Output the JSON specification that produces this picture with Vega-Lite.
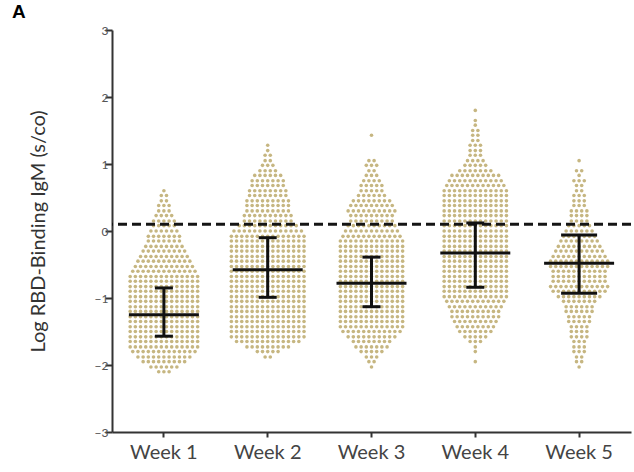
{
  "$schema": "https://vega.github.io/schema/vega-lite/v6.json",
  "width": 519,
  "height": 402,
  "autosize": {"type": "none"},
  "padding": {"left": 112, "top": 30, "right": 3, "bottom": 40},
  "background": "white",
  "title": {"text": "A", "anchor": "start", "frame": "group", "dx": -100, "offset": 2, "fontSize": 19, "fontWeight": "bold", "font": "Liberation Sans", "color": "#000"},
  "config": {"view": {"stroke": null}},
  "layer": [
    {
      "data": {"values": [
        {"w": "Week 1", "v": [0.6,0.53,0.53,0.45,0.45,0.38,0.38,0.38,0.3,0.3,0.3,0.23,0.23,0.23,0.23,0.15,0.15,0.15,0.15,0.15,0.08,0.08,0.08,0.08,0.08,0,0,0,0,0,0,
          -0.08,-0.08,-0.08,-0.08,-0.08,-0.08,-0.08,
          -0.15,-0.15,-0.15,-0.15,-0.15,-0.15,-0.15,
          -0.23,-0.23,-0.23,-0.23,-0.23,-0.23,-0.23,-0.23,
          -0.3,-0.3,-0.3,-0.3,-0.3,-0.3,-0.3,-0.3,-0.3,
          -0.38,-0.38,-0.38,-0.38,-0.38,-0.38,-0.38,-0.38,-0.38,-0.38,
          -0.45,-0.45,-0.45,-0.45,-0.45,-0.45,-0.45,-0.45,-0.45,-0.45,-0.45,
          -0.53,-0.53,-0.53,-0.53,-0.53,-0.53,-0.53,-0.53,-0.53,-0.53,-0.53,-0.53,
          -0.6,-0.6,-0.6,-0.6,-0.6,-0.6,-0.6,-0.6,-0.6,-0.6,-0.6,-0.6,-0.6,
          -0.68,-0.68,-0.68,-0.68,-0.68,-0.68,-0.68,-0.68,-0.68,-0.68,-0.68,-0.68,-0.68,-0.68,
          -0.75,-0.75,-0.75,-0.75,-0.75,-0.75,-0.75,-0.75,-0.75,-0.75,-0.75,-0.75,-0.75,-0.75,
          -0.83,-0.83,-0.83,-0.83,-0.83,-0.83,-0.83,-0.83,-0.83,-0.83,-0.83,-0.83,-0.83,-0.83,
          -0.9,-0.9,-0.9,-0.9,-0.9,-0.9,-0.9,-0.9,-0.9,-0.9,-0.9,-0.9,-0.9,-0.9,
          -0.98,-0.98,-0.98,-0.98,-0.98,-0.98,-0.98,-0.98,-0.98,-0.98,-0.98,-0.98,-0.98,-0.98,
          -1.05,-1.05,-1.05,-1.05,-1.05,-1.05,-1.05,-1.05,-1.05,-1.05,-1.05,-1.05,-1.05,-1.05,
          -1.13,-1.13,-1.13,-1.13,-1.13,-1.13,-1.13,-1.13,-1.13,-1.13,-1.13,-1.13,-1.13,-1.13,
          -1.2,-1.2,-1.2,-1.2,-1.2,-1.2,-1.2,-1.2,-1.2,-1.2,-1.2,-1.2,-1.2,-1.2,
          -1.28,-1.28,-1.28,-1.28,-1.28,-1.28,-1.28,-1.28,-1.28,-1.28,-1.28,-1.28,-1.28,-1.28,
          -1.35,-1.35,-1.35,-1.35,-1.35,-1.35,-1.35,-1.35,-1.35,-1.35,-1.35,-1.35,-1.35,-1.35,
          -1.43,-1.43,-1.43,-1.43,-1.43,-1.43,-1.43,-1.43,-1.43,-1.43,-1.43,-1.43,-1.43,-1.43,
          -1.5,-1.5,-1.5,-1.5,-1.5,-1.5,-1.5,-1.5,-1.5,-1.5,-1.5,-1.5,-1.5,-1.5,
          -1.58,-1.58,-1.58,-1.58,-1.58,-1.58,-1.58,-1.58,-1.58,-1.58,-1.58,-1.58,-1.58,-1.58,
          -1.65,-1.65,-1.65,-1.65,-1.65,-1.65,-1.65,-1.65,-1.65,-1.65,-1.65,-1.65,-1.65,-1.65,
          -1.73,-1.73,-1.73,-1.73,-1.73,-1.73,-1.73,-1.73,-1.73,-1.73,-1.73,-1.73,-1.73,-1.73,
          -1.8,-1.8,-1.8,-1.8,-1.8,-1.8,-1.8,-1.8,-1.8,-1.8,-1.8,-1.8,-1.8,
          -1.88,-1.88,-1.88,-1.88,-1.88,-1.88,-1.88,-1.88,-1.88,-1.88,-1.88,
          -1.95,-1.95,-1.95,-1.95,-1.95,-1.95,-1.95,-1.95,-1.95,
          -2.03,-2.03,-2.03,-2.03,-2.03,-2.03,
          -2.1,-2.1,-2.1]},
        {"w": "Week 2", "v": [1.28,1.2,1.13,1.13,1.05,1.05,0.98,0.98,0.98,0.9,0.9,0.9,0.9,
          0.83,0.83,0.83,0.83,0.83,0.83,
          0.75,0.75,0.75,0.75,0.75,0.75,0.75,
          0.68,0.68,0.68,0.68,0.68,0.68,0.68,
          0.6,0.6,0.6,0.6,0.6,0.6,0.6,0.6,
          0.53,0.53,0.53,0.53,0.53,0.53,0.53,0.53,
          0.45,0.45,0.45,0.45,0.45,0.45,0.45,0.45,0.45,
          0.38,0.38,0.38,0.38,0.38,0.38,0.38,0.38,0.38,
          0.3,0.3,0.3,0.3,0.3,0.3,0.3,0.3,0.3,
          0.23,0.23,0.23,0.23,0.23,0.23,0.23,0.23,0.23,0.23,
          0.15,0.15,0.15,0.15,0.15,0.15,0.15,0.15,0.15,0.15,
          0.08,0.08,0.08,0.08,0.08,0.08,0.08,0.08,0.08,0.08,0.08,0.08,
          0,0,0,0,0,0,0,0,0,0,0,0,0,0,
          -0.08,-0.08,-0.08,-0.08,-0.08,-0.08,-0.08,-0.08,-0.08,-0.08,-0.08,-0.08,-0.08,-0.08,-0.08,
          -0.15,-0.15,-0.15,-0.15,-0.15,-0.15,-0.15,-0.15,-0.15,-0.15,-0.15,-0.15,-0.15,-0.15,-0.15,
          -0.23,-0.23,-0.23,-0.23,-0.23,-0.23,-0.23,-0.23,-0.23,-0.23,-0.23,-0.23,-0.23,-0.23,-0.23,
          -0.3,-0.3,-0.3,-0.3,-0.3,-0.3,-0.3,-0.3,-0.3,-0.3,-0.3,-0.3,-0.3,-0.3,-0.3,
          -0.38,-0.38,-0.38,-0.38,-0.38,-0.38,-0.38,-0.38,-0.38,-0.38,-0.38,-0.38,-0.38,-0.38,-0.38,
          -0.45,-0.45,-0.45,-0.45,-0.45,-0.45,-0.45,-0.45,-0.45,-0.45,-0.45,-0.45,-0.45,-0.45,-0.45,
          -0.53,-0.53,-0.53,-0.53,-0.53,-0.53,-0.53,-0.53,-0.53,-0.53,-0.53,-0.53,-0.53,-0.53,-0.53,
          -0.6,-0.6,-0.6,-0.6,-0.6,-0.6,-0.6,-0.6,-0.6,-0.6,-0.6,-0.6,-0.6,-0.6,-0.6,
          -0.68,-0.68,-0.68,-0.68,-0.68,-0.68,-0.68,-0.68,-0.68,-0.68,-0.68,-0.68,-0.68,-0.68,-0.68,
          -0.75,-0.75,-0.75,-0.75,-0.75,-0.75,-0.75,-0.75,-0.75,-0.75,-0.75,-0.75,-0.75,-0.75,-0.75,
          -0.83,-0.83,-0.83,-0.83,-0.83,-0.83,-0.83,-0.83,-0.83,-0.83,-0.83,-0.83,-0.83,-0.83,-0.83,
          -0.9,-0.9,-0.9,-0.9,-0.9,-0.9,-0.9,-0.9,-0.9,-0.9,-0.9,-0.9,-0.9,-0.9,-0.9,
          -0.98,-0.98,-0.98,-0.98,-0.98,-0.98,-0.98,-0.98,-0.98,-0.98,-0.98,-0.98,-0.98,-0.98,-0.98,
          -1.05,-1.05,-1.05,-1.05,-1.05,-1.05,-1.05,-1.05,-1.05,-1.05,-1.05,-1.05,-1.05,-1.05,-1.05,
          -1.13,-1.13,-1.13,-1.13,-1.13,-1.13,-1.13,-1.13,-1.13,-1.13,-1.13,-1.13,-1.13,-1.13,-1.13,
          -1.2,-1.2,-1.2,-1.2,-1.2,-1.2,-1.2,-1.2,-1.2,-1.2,-1.2,-1.2,-1.2,-1.2,-1.2,
          -1.28,-1.28,-1.28,-1.28,-1.28,-1.28,-1.28,-1.28,-1.28,-1.28,-1.28,-1.28,-1.28,-1.28,-1.28,
          -1.35,-1.35,-1.35,-1.35,-1.35,-1.35,-1.35,-1.35,-1.35,-1.35,-1.35,-1.35,-1.35,-1.35,-1.35,
          -1.43,-1.43,-1.43,-1.43,-1.43,-1.43,-1.43,-1.43,-1.43,-1.43,-1.43,-1.43,-1.43,-1.43,-1.43,
          -1.5,-1.5,-1.5,-1.5,-1.5,-1.5,-1.5,-1.5,-1.5,-1.5,-1.5,-1.5,-1.5,-1.5,-1.5,
          -1.58,-1.58,-1.58,-1.58,-1.58,-1.58,-1.58,-1.58,-1.58,-1.58,-1.58,-1.58,-1.58,-1.58,-1.58,
          -1.65,-1.65,-1.65,-1.65,-1.65,-1.65,-1.65,-1.65,-1.65,-1.65,-1.65,-1.65,-1.65,
          -1.73,-1.73,-1.73,-1.73,-1.73,-1.73,-1.73,-1.73,-1.73,
          -1.8,-1.8,-1.8,-1.8,-1.8,
          -1.88,-1.88]},
        {"w": "Week 3", "v": [1.43,1.05,1.05,0.98,0.98,0.98,0.9,0.9,0.83,0.83,0.83,
          0.75,0.75,0.75,0.75,
          0.68,0.68,0.68,0.68,0.68,
          0.6,0.6,0.6,0.6,0.6,
          0.53,0.53,0.53,0.53,0.53,0.53,
          0.45,0.45,0.45,0.45,0.45,0.45,0.45,0.45,
          0.38,0.38,0.38,0.38,0.38,0.38,0.38,0.38,0.38,
          0.3,0.3,0.3,0.3,0.3,0.3,0.3,0.3,0.3,0.3,
          0.23,0.23,0.23,0.23,0.23,0.23,0.23,0.23,0.23,
          0.15,0.15,0.15,0.15,0.15,0.15,0.15,0.15,0.15,
          0.08,0.08,0.08,0.08,0.08,0.08,0.08,0.08,0.08,0.08,
          0,0,0,0,0,0,0,0,0,0,0,
          -0.08,-0.08,-0.08,-0.08,-0.08,-0.08,-0.08,-0.08,-0.08,-0.08,-0.08,-0.08,
          -0.15,-0.15,-0.15,-0.15,-0.15,-0.15,-0.15,-0.15,-0.15,-0.15,-0.15,-0.15,-0.15,
          -0.23,-0.23,-0.23,-0.23,-0.23,-0.23,-0.23,-0.23,-0.23,-0.23,-0.23,-0.23,-0.23,
          -0.3,-0.3,-0.3,-0.3,-0.3,-0.3,-0.3,-0.3,-0.3,-0.3,-0.3,-0.3,-0.3,
          -0.38,-0.38,-0.38,-0.38,-0.38,-0.38,-0.38,-0.38,-0.38,-0.38,-0.38,-0.38,-0.38,
          -0.45,-0.45,-0.45,-0.45,-0.45,-0.45,-0.45,-0.45,-0.45,-0.45,-0.45,-0.45,-0.45,
          -0.53,-0.53,-0.53,-0.53,-0.53,-0.53,-0.53,-0.53,-0.53,-0.53,-0.53,-0.53,-0.53,
          -0.6,-0.6,-0.6,-0.6,-0.6,-0.6,-0.6,-0.6,-0.6,-0.6,-0.6,-0.6,-0.6,
          -0.68,-0.68,-0.68,-0.68,-0.68,-0.68,-0.68,-0.68,-0.68,-0.68,-0.68,-0.68,-0.68,
          -0.75,-0.75,-0.75,-0.75,-0.75,-0.75,-0.75,-0.75,-0.75,-0.75,-0.75,-0.75,-0.75,
          -0.83,-0.83,-0.83,-0.83,-0.83,-0.83,-0.83,-0.83,-0.83,-0.83,-0.83,-0.83,-0.83,
          -0.9,-0.9,-0.9,-0.9,-0.9,-0.9,-0.9,-0.9,-0.9,-0.9,-0.9,-0.9,-0.9,
          -0.98,-0.98,-0.98,-0.98,-0.98,-0.98,-0.98,-0.98,-0.98,-0.98,-0.98,-0.98,-0.98,
          -1.05,-1.05,-1.05,-1.05,-1.05,-1.05,-1.05,-1.05,-1.05,-1.05,-1.05,-1.05,-1.05,
          -1.13,-1.13,-1.13,-1.13,-1.13,-1.13,-1.13,-1.13,-1.13,-1.13,-1.13,-1.13,-1.13,
          -1.2,-1.2,-1.2,-1.2,-1.2,-1.2,-1.2,-1.2,-1.2,-1.2,-1.2,-1.2,-1.2,
          -1.28,-1.28,-1.28,-1.28,-1.28,-1.28,-1.28,-1.28,-1.28,-1.28,-1.28,-1.28,-1.28,
          -1.35,-1.35,-1.35,-1.35,-1.35,-1.35,-1.35,-1.35,-1.35,-1.35,-1.35,-1.35,-1.35,
          -1.43,-1.43,-1.43,-1.43,-1.43,-1.43,-1.43,-1.43,-1.43,-1.43,-1.43,-1.43,-1.43,
          -1.5,-1.5,-1.5,-1.5,-1.5,-1.5,-1.5,-1.5,-1.5,-1.5,-1.5,-1.5,
          -1.58,-1.58,-1.58,-1.58,-1.58,-1.58,-1.58,-1.58,-1.58,-1.58,
          -1.65,-1.65,-1.65,-1.65,-1.65,-1.65,-1.65,-1.65,
          -1.73,-1.73,-1.73,-1.73,-1.73,-1.73,-1.73,
          -1.8,-1.8,-1.8,-1.8,-1.8,
          -1.88,-1.88,-1.88,
          -1.95,-1.95,
          -2.03]},
        {"w": "Week 4", "v": [1.8,1.65,1.58,1.5,1.5,1.43,1.43,1.35,1.35,1.28,1.28,1.28,1.2,1.2,1.2,1.13,1.13,1.13,
          1.05,1.05,1.05,1.05,
          0.98,0.98,0.98,0.98,0.98,
          0.9,0.9,0.9,0.9,0.9,0.9,0.9,
          0.83,0.83,0.83,0.83,0.83,0.83,0.83,0.83,0.83,0.83,
          0.75,0.75,0.75,0.75,0.75,0.75,0.75,0.75,0.75,0.75,0.75,
          0.68,0.68,0.68,0.68,0.68,0.68,0.68,0.68,0.68,0.68,0.68,0.68,
          0.6,0.6,0.6,0.6,0.6,0.6,0.6,0.6,0.6,0.6,0.6,0.6,0.6,
          0.53,0.53,0.53,0.53,0.53,0.53,0.53,0.53,0.53,0.53,0.53,0.53,0.53,
          0.45,0.45,0.45,0.45,0.45,0.45,0.45,0.45,0.45,0.45,0.45,0.45,0.45,
          0.38,0.38,0.38,0.38,0.38,0.38,0.38,0.38,0.38,0.38,0.38,0.38,0.38,
          0.3,0.3,0.3,0.3,0.3,0.3,0.3,0.3,0.3,0.3,0.3,0.3,0.3,
          0.23,0.23,0.23,0.23,0.23,0.23,0.23,0.23,0.23,0.23,0.23,0.23,0.23,
          0.15,0.15,0.15,0.15,0.15,0.15,0.15,0.15,0.15,0.15,0.15,0.15,0.15,
          0.08,0.08,0.08,0.08,0.08,0.08,0.08,0.08,0.08,0.08,0.08,0.08,0.08,
          0,0,0,0,0,0,0,0,0,0,0,0,0,
          -0.08,-0.08,-0.08,-0.08,-0.08,-0.08,-0.08,-0.08,-0.08,-0.08,-0.08,-0.08,-0.08,
          -0.15,-0.15,-0.15,-0.15,-0.15,-0.15,-0.15,-0.15,-0.15,-0.15,-0.15,-0.15,-0.15,
          -0.23,-0.23,-0.23,-0.23,-0.23,-0.23,-0.23,-0.23,-0.23,-0.23,-0.23,-0.23,-0.23,
          -0.3,-0.3,-0.3,-0.3,-0.3,-0.3,-0.3,-0.3,-0.3,-0.3,-0.3,-0.3,-0.3,
          -0.38,-0.38,-0.38,-0.38,-0.38,-0.38,-0.38,-0.38,-0.38,-0.38,-0.38,-0.38,-0.38,
          -0.45,-0.45,-0.45,-0.45,-0.45,-0.45,-0.45,-0.45,-0.45,-0.45,-0.45,-0.45,-0.45,
          -0.53,-0.53,-0.53,-0.53,-0.53,-0.53,-0.53,-0.53,-0.53,-0.53,-0.53,-0.53,-0.53,
          -0.6,-0.6,-0.6,-0.6,-0.6,-0.6,-0.6,-0.6,-0.6,-0.6,-0.6,-0.6,-0.6,
          -0.68,-0.68,-0.68,-0.68,-0.68,-0.68,-0.68,-0.68,-0.68,-0.68,-0.68,-0.68,-0.68,
          -0.75,-0.75,-0.75,-0.75,-0.75,-0.75,-0.75,-0.75,-0.75,-0.75,-0.75,-0.75,-0.75,
          -0.83,-0.83,-0.83,-0.83,-0.83,-0.83,-0.83,-0.83,-0.83,-0.83,-0.83,-0.83,-0.83,
          -0.9,-0.9,-0.9,-0.9,-0.9,-0.9,-0.9,-0.9,-0.9,-0.9,-0.9,-0.9,-0.9,
          -0.98,-0.98,-0.98,-0.98,-0.98,-0.98,-0.98,-0.98,-0.98,-0.98,-0.98,-0.98,-0.98,
          -1.05,-1.05,-1.05,-1.05,-1.05,-1.05,-1.05,-1.05,-1.05,-1.05,-1.05,-1.05,
          -1.13,-1.13,-1.13,-1.13,-1.13,-1.13,-1.13,-1.13,-1.13,-1.13,-1.13,
          -1.2,-1.2,-1.2,-1.2,-1.2,-1.2,-1.2,-1.2,-1.2,-1.2,
          -1.28,-1.28,-1.28,-1.28,-1.28,-1.28,-1.28,-1.28,-1.28,-1.28,
          -1.35,-1.35,-1.35,-1.35,-1.35,-1.35,-1.35,-1.35,-1.35,
          -1.43,-1.43,-1.43,-1.43,-1.43,-1.43,-1.43,-1.43,
          -1.5,-1.5,-1.5,-1.5,-1.5,-1.5,-1.5,
          -1.58,-1.58,-1.58,-1.58,-1.58,
          -1.65,-1.65,-1.65,
          -1.73,-1.8,-1.95]},
        {"w": "Week 5", "v": [1.05,0.9,0.9,0.83,0.75,0.75,0.75,0.68,0.68,0.6,0.6,0.53,0.53,0.53,0.45,0.45,0.45,0.38,0.38,0.38,
          0.3,0.3,0.3,0.3,0.23,0.23,0.23,0.23,0.15,0.15,0.15,0.15,
          0.08,0.08,0.08,0.08,0.08,
          0,0,0,0,0,0,
          -0.08,-0.08,-0.08,-0.08,-0.08,-0.08,-0.08,
          -0.15,-0.15,-0.15,-0.15,-0.15,-0.15,-0.15,-0.15,
          -0.23,-0.23,-0.23,-0.23,-0.23,-0.23,-0.23,-0.23,-0.23,
          -0.3,-0.3,-0.3,-0.3,-0.3,-0.3,-0.3,-0.3,-0.3,-0.3,
          -0.38,-0.38,-0.38,-0.38,-0.38,-0.38,-0.38,-0.38,-0.38,-0.38,-0.38,
          -0.45,-0.45,-0.45,-0.45,-0.45,-0.45,-0.45,-0.45,-0.45,-0.45,-0.45,-0.45,
          -0.53,-0.53,-0.53,-0.53,-0.53,-0.53,-0.53,-0.53,-0.53,-0.53,-0.53,-0.53,
          -0.6,-0.6,-0.6,-0.6,-0.6,-0.6,-0.6,-0.6,-0.6,-0.6,-0.6,
          -0.68,-0.68,-0.68,-0.68,-0.68,-0.68,-0.68,-0.68,-0.68,-0.68,-0.68,
          -0.75,-0.75,-0.75,-0.75,-0.75,-0.75,-0.75,-0.75,-0.75,-0.75,-0.75,
          -0.83,-0.83,-0.83,-0.83,-0.83,-0.83,-0.83,-0.83,-0.83,-0.83,-0.83,-0.83,
          -0.9,-0.9,-0.9,-0.9,-0.9,-0.9,-0.9,-0.9,-0.9,-0.9,-0.9,
          -0.98,-0.98,-0.98,-0.98,-0.98,-0.98,-0.98,-0.98,-0.98,
          -1.05,-1.05,-1.05,-1.05,-1.05,-1.05,-1.05,
          -1.13,-1.13,-1.13,-1.13,-1.13,-1.13,
          -1.2,-1.2,-1.2,-1.2,-1.2,-1.2,
          -1.28,-1.28,-1.28,-1.28,-1.28,
          -1.35,-1.35,-1.35,-1.35,-1.35,
          -1.43,-1.43,-1.43,-1.43,
          -1.5,-1.5,-1.5,-1.5,
          -1.58,-1.58,-1.58,-1.58,
          -1.65,-1.65,-1.65,
          -1.73,-1.73,-1.73,
          -1.8,-1.8,-1.8,
          -1.88,-1.88,
          -1.95,-1.95,
          -2.03]}
      ]},
      "transform": [
        {"flatten": ["v"]},
        {"calculate": "round(datum.v / 0.075)", "as": "r"},
        {"window": [{"op": "row_number", "as": "n"}], "groupby": ["w", "r"]},
        {"joinaggregate": [{"op": "count", "as": "c"}], "groupby": ["w", "r"]},
        {"calculate": "datum.n - (datum.c + 1) / 2", "as": "o"}
      ],
      "mark": {"type": "circle", "size": 13, "opacity": 1, "color": "#c6b681"},
      "encoding": {
        "x": {"field": "w", "type": "nominal", "title": null,
          "scale": {"type": "band", "paddingInner": 0, "paddingOuter": 0},
          "axis": {"labelAngle": 0, "labelFont": "Lato", "labelFontSize": 20, "labelColor": "#444", "labelPadding": 5,
                   "tickSize": 5, "tickWidth": 2, "tickColor": "#333", "domainColor": "#333", "domainWidth": 2, "grid": false}},
        "xOffset": {"field": "o", "type": "quantitative", "scale": {"domain": [-10, 10]}},
        "y": {"field": "v", "type": "quantitative",
          "scale": {"domain": [-3, 3]},
          "title": "Log RBD-Binding IgM (s/co)",
          "axis": {"values": [-3, -2, -1, 0, 1, 2, 3], "format": "d", "labelFont": "Lato", "labelFontSize": 12, "labelColor": "#555",
                   "labelPadding": -3, "tickSize": 7, "tickWidth": 2, "tickColor": "#333", "domainColor": "#333", "domainWidth": 2, "grid": false,
                   "titleFont": "Lato", "titleFontSize": 20, "titleFontWeight": "normal", "titleColor": "#333",
                   "titleX": -74, "titleY": 201, "titleAngle": -90, "titleAlign": "center", "titleBaseline": "middle"}}
      }
    },
    {
      "data": {"values": [{"cutoff": 0.1}]},
      "mark": {"type": "rule", "strokeDash": [9, 5], "strokeWidth": 3, "color": "#151515"},
      "encoding": {"y": {"field": "cutoff", "type": "quantitative"}}
    },
    {
      "data": {"name": "stats", "values": [
        {"w": "Week 1", "mean": -1.25, "lo": -1.57, "hi": -0.85},
        {"w": "Week 2", "mean": -0.58, "lo": -0.99, "hi": -0.1},
        {"w": "Week 3", "mean": -0.78, "lo": -1.13, "hi": -0.39},
        {"w": "Week 4", "mean": -0.33, "lo": -0.84, "hi": 0.12},
        {"w": "Week 5", "mean": -0.48, "lo": -0.93, "hi": -0.06}
      ]},
      "layer": [
        {"mark": {"type": "rule", "strokeWidth": 3, "color": "#111"},
         "encoding": {"x": {"field": "w", "type": "nominal"}, "y": {"field": "lo", "type": "quantitative"}, "y2": {"field": "hi"}}},
        {"mark": {"type": "tick", "thickness": 3, "size": 70, "opacity": 1, "color": "#111"},
         "encoding": {"x": {"field": "w", "type": "nominal"}, "y": {"field": "mean", "type": "quantitative"}}},
        {"mark": {"type": "tick", "thickness": 3, "opacity": 1, "color": "#111"},
         "encoding": {"x": {"field": "w", "type": "nominal"}, "y": {"field": "lo", "type": "quantitative"},
                      "size": {"condition": {"test": "datum.w === 'Week 5'", "value": 36}, "value": 18}}},
        {"mark": {"type": "tick", "thickness": 3, "opacity": 1, "color": "#111"},
         "encoding": {"x": {"field": "w", "type": "nominal"}, "y": {"field": "hi", "type": "quantitative"},
                      "size": {"condition": {"test": "datum.w === 'Week 5'", "value": 36}, "value": 18}}}
      ]
    }
  ]
}
